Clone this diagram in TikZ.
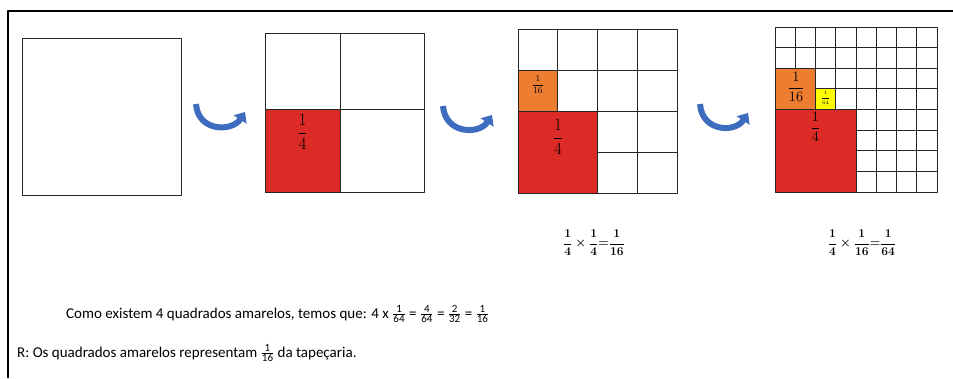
\documentclass[tikz,border=0pt]{standalone}
\usepackage{amsmath}
\usepackage{fontspec}
\setmainfont{Carlito}
\usetikzlibrary{arrows.meta}
\definecolor{tapred}{RGB}{220,42,38}
\definecolor{taporange}{RGB}{237,125,49}
\definecolor{tapyellow}{RGB}{255,255,0}
\definecolor{turnblue}{RGB}{62,108,190}
\newcommand{\fdig}[1]{\text{\fontsize{11}{11}\selectfont #1}}
\newcommand{\tfr}[2]{\ensuremath{\frac{\fdig{#1}}{\fdig{#2}}}}
\begin{document}
\begin{tikzpicture}[x=1pt, y=-1pt, line join=round, >=Stealth]
	\useasboundingbox (0,0) rectangle (953,378);
	\tikzset{cell/.style={draw=black!85, line width=0.9pt},
		turn/.style={turnblue, line width=6pt, -{Triangle[length=9pt,width=15pt]}},
		txt/.style={font=\fontsize{15}{18}\selectfont, inner sep=0pt},
		prod/.style={font=\fontsize{11.5}{12}\selectfont}}
	\path (22,38) coordinate (A1) (181,195) coordinate (B1)
	(265,33) coordinate (A2) (424,192) coordinate (B2)
	(518,29) coordinate (A3) (677,193) coordinate (B3)
	(775,27) coordinate (A4) (937,192) coordinate (B4);
	% frame
	\draw[line width=2.2pt] (8,378) -- (8,11) -- (953,11);
	% square 1
	\draw[cell] (A1) rectangle (B1);
	% square 2
	\draw[cell] (340,33) -- (340,192) (265,109) -- (424,109);
	\draw[cell, fill=tapred] (265,109) rectangle (340,192);
	\draw[cell] (A2) rectangle (B2);
	\node[font=\fontsize{17}{17}\selectfont] (q2) at (302.5,132) {$\dfrac{1}{4}$};
	% square 3
	\foreach \i in {1,2,3}
	\draw[cell] ({518+\i*39.75},29) -- ++(0,164) (518,{29+\i*41}) -- ++(159,0);
	\draw[cell, fill=taporange] (518,70) rectangle (557.75,111);
	\draw[cell, fill=tapred] (518,111) rectangle (597.5,193);
	\draw[cell] (A3) rectangle (B3);
	\node[font=\fontsize{9}{9}\selectfont] (s3) at (538,85) {$\dfrac{1}{16}$};
	\node[font=\fontsize{17}{17}\selectfont] (q3) at (558,137) {$\dfrac{1}{4}$};
	% square 4
	\foreach \i in {1,...,7}
	\draw[cell] ({775+\i*20.25},27) -- ++(0,165) (775,{27+\i*20.625}) -- ++(162,0);
	\draw[cell, fill=taporange] (775,68.25) rectangle (815.5,109.5);
	\draw[cell, fill=tapyellow] (815.5,88.875) rectangle (835.75,109.5);
	\draw[cell, fill=tapred] (775,109.5) rectangle (856,192);
	\draw[cell] (A4) rectangle (B4);
	\node[font=\fontsize{15}{15}\selectfont] (s4) at (796,87) {$\dfrac{1}{16}$};
	\node[font=\fontsize{5}{5}\selectfont] (e4) at (825.6,98) {$\dfrac{1}{64}$};
	\node[font=\fontsize{15}{15}\selectfont] (q4) at (815.5,127) {$\dfrac{1}{4}$};
	% turning arrows
	\path (196,104) coordinate (t1s) (245,112) coordinate (t1e)
	(443,106) coordinate (t2s) (492,115) coordinate (t2e)
	(700,104) coordinate (t3s) (748,113) coordinate (t3e);
	\draw[turn] (t1s) .. controls (198,132) and (232,132) .. (t1e);
	\draw[turn] (t2s) .. controls (445,134) and (479,135) .. (t2e);
	\draw[turn] (t3s) .. controls (702,132) and (735,133) .. (t3e);
	% products
	\node[prod] (p3) at (594,243) {$\boldsymbol{\dfrac{1}{4}\times\dfrac{1}{4}{=}\dfrac{1}{16}}$};
	\node[prod] (p4) at (862,243) {$\boldsymbol{\dfrac{1}{4}\times\dfrac{1}{16}{=}\dfrac{1}{64}}$};
	% answer
	\node[txt, anchor=base west] (como) at (66,318) {Como existem 4 quadrados amarelos, temos que: 4 x \tfr{1}{64} = \tfr{4}{64} = \tfr{2}{32} = \tfr{1}{16}};
	\node[txt, anchor=base west] (resp) at (17,357) {R: Os quadrados amarelos representam \tfr{1}{16} da tapeçaria.};
\end{tikzpicture}
\end{document}
